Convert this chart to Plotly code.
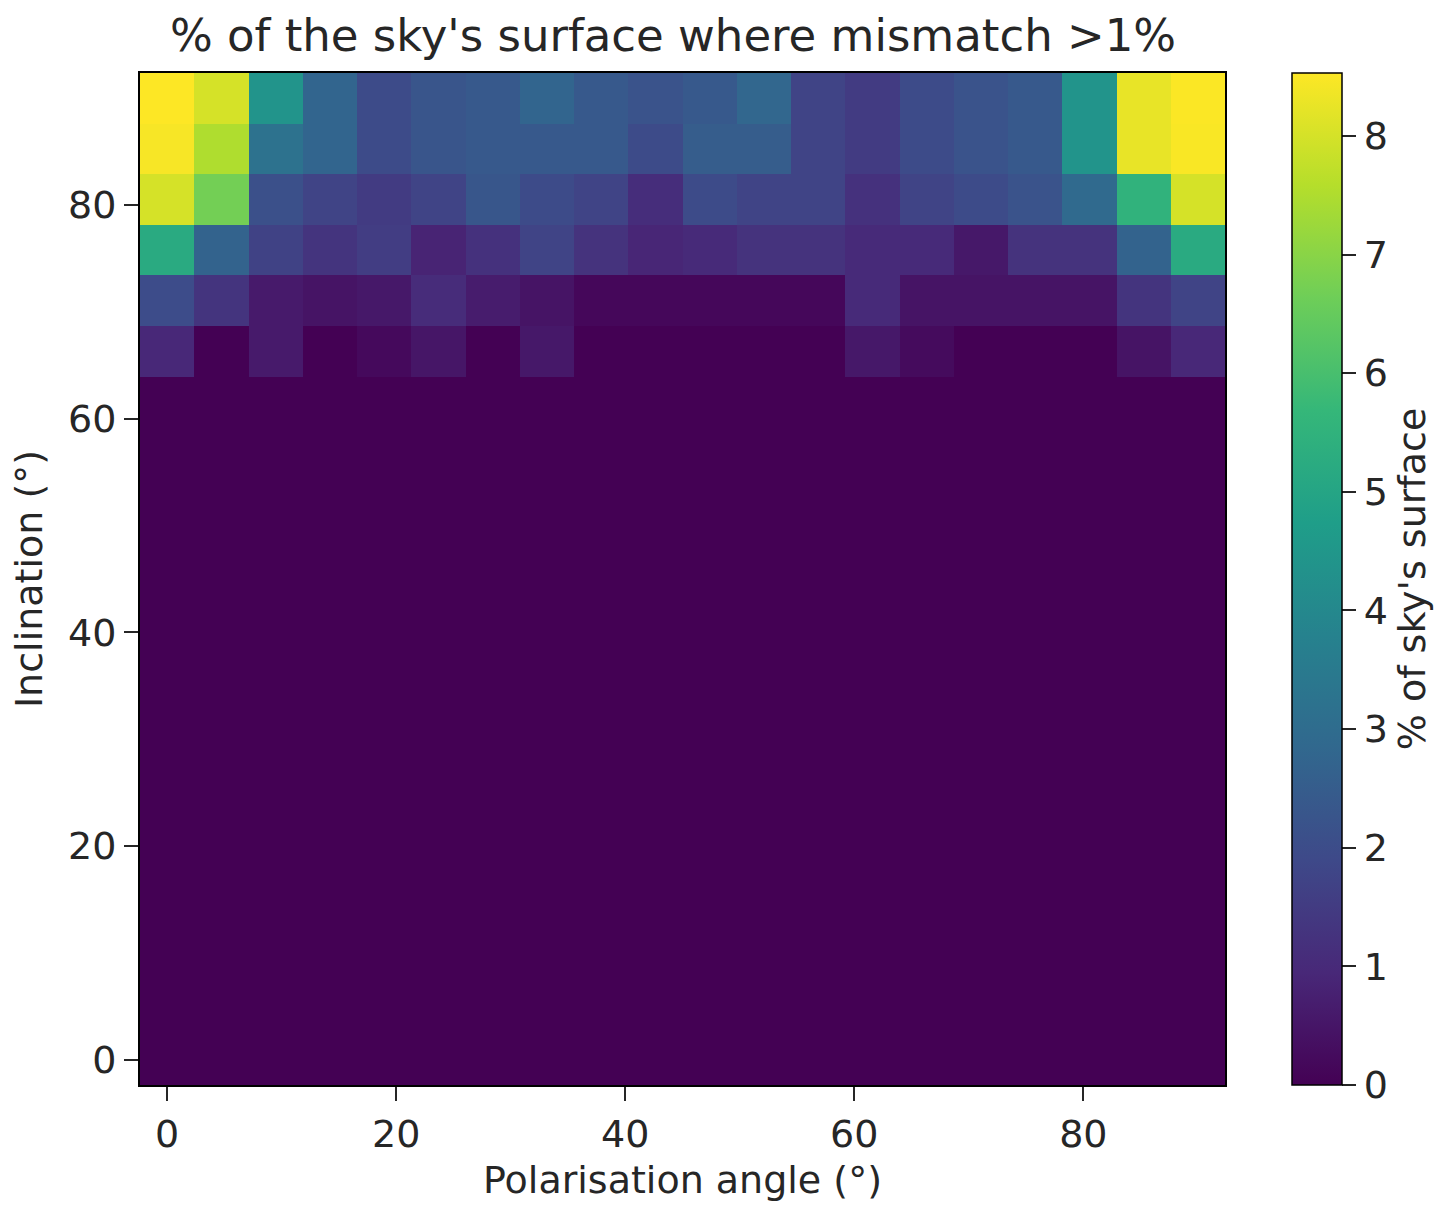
import numpy as np
import plotly.graph_objects as go

# Grid of polarisation angles and inclinations (degrees), 20 x 20 bins
polarisation_angles = [0.0, 4.737, 9.474, 14.211, 18.947, 23.684, 28.421, 33.158, 37.895, 42.632,
                       47.368, 52.105, 56.842, 61.579, 66.316, 71.053, 75.789, 80.526, 85.263, 90.0]
inclinations = [0.0, 4.737, 9.474, 14.211, 18.947, 23.684, 28.421, 33.158, 37.895, 42.632,
                47.368, 52.105, 56.842, 61.579, 66.316, 71.053, 75.789, 80.526, 85.263, 90.0]

# % of the sky's surface with mismatch > 1%, one row per inclination (bottom to top)
row_00 = [0.0] * 20
row_05 = [0.0] * 20
row_09 = [0.0] * 20
row_14 = [0.0] * 20
row_19 = [0.0] * 20
row_24 = [0.0] * 20
row_28 = [0.0] * 20
row_33 = [0.0] * 20
row_38 = [0.0] * 20
row_43 = [0.0] * 20
row_47 = [0.0] * 20
row_52 = [0.0] * 20
row_57 = [0.0] * 20
row_62 = [0.0] * 20
row_66 = [0.95, 0.0, 0.6, 0.0, 0.2, 0.5, 0.0, 0.55, 0.0, 0.0,
          0.0, 0.0, 0.0, 0.55, 0.25, 0.0, 0.0, 0.0, 0.45, 0.95]
row_71 = [2.0, 1.3, 0.6, 0.45, 0.55, 1.05, 0.65, 0.45, 0.15, 0.15,
          0.15, 0.15, 0.15, 1.0, 0.45, 0.45, 0.45, 0.45, 1.3, 1.75]
row_76 = [5.2, 2.7, 1.7, 1.3, 1.55, 0.85, 1.2, 1.75, 1.25, 0.9,
          1.0, 1.25, 1.25, 1.0, 1.0, 0.55, 1.25, 1.25, 2.7, 5.2]
row_81 = [8.0, 6.7, 2.1, 1.75, 1.5, 1.75, 2.3, 1.95, 1.75, 1.1,
          1.95, 1.75, 1.75, 1.2, 1.75, 1.95, 2.2, 2.9, 5.5, 8.0]
row_85 = [8.45, 7.5, 3.2, 2.75, 1.95, 2.25, 2.4, 2.4, 2.4, 1.95,
          2.5, 2.5, 1.75, 1.5, 1.95, 2.2, 2.4, 4.4, 8.25, 8.48]
row_90 = [8.53, 8.0, 4.4, 2.75, 1.95, 2.25, 2.4, 2.75, 2.4, 2.2,
          2.4, 2.8, 1.75, 1.5, 1.95, 2.2, 2.4, 4.4, 8.25, 8.5]

sky_fraction = [row_00, row_05, row_09, row_14, row_19, row_24, row_28, row_33, row_38, row_43,
                row_47, row_52, row_57, row_62, row_66, row_71, row_76, row_81, row_85, row_90]

tick_values = [0, 20, 40, 60, 80]
cbar_ticks = [0, 1, 2, 3, 4, 5, 6, 7, 8]

FONT = "DejaVu Sans"
TXT = "#262626"
LABEL_SIZE = 38

half = (polarisation_angles[1] - polarisation_angles[0]) / 2

fig = go.Figure(
    go.Heatmap(
        x=polarisation_angles,
        y=inclinations,
        z=sky_fraction,
        colorscale="Viridis",
        zmin=0,
        zmax=max(max(r) for r in sky_fraction),
        colorbar=dict(
            x=(1292 - 140) / 1085,
            xanchor="left",
            xpad=0,
            y=0.5,
            yanchor="middle",
            len=1.0,
            lenmode="fraction",
            ypad=0,
            thickness=50,
            thicknessmode="pixels",
            outlinecolor="black",
            outlinewidth=1.5,
            ticks="outside",
            ticklen=14,
            tickwidth=1.5,
            tickcolor=TXT,
            tickvals=cbar_ticks,
            tickfont=dict(family=FONT, size=LABEL_SIZE, color=TXT),
            title=dict(text="% of sky's surface", side="right",
                       font=dict(family=FONT, size=LABEL_SIZE, color=TXT)),
        ),
        hovertemplate="angle %{x:.1f}°<br>inclination %{y:.1f}°<br>%{z:.2f}%<extra></extra>",
    )
)

axis_common = dict(
    showgrid=False,
    zeroline=False,
    ticks="outside",
    ticklen=14,
    tickwidth=1.5,
    tickcolor=TXT,
    tickvals=tick_values,
    tickfont=dict(family=FONT, size=LABEL_SIZE, color=TXT),
    showline=True,
    linecolor="black",
    linewidth=2,
    mirror=True,
)

fig.update_xaxes(
    **axis_common,
    range=[polarisation_angles[0] - half, polarisation_angles[-1] + half],
    title=dict(text="Polarisation angle (°)", standoff=12,
               font=dict(family=FONT, size=LABEL_SIZE, color=TXT)),
)
fig.update_yaxes(
    **axis_common,
    range=[inclinations[0] - half, inclinations[-1] + half],
    title=dict(text="Inclination (°)", standoff=14,
               font=dict(family=FONT, size=LABEL_SIZE, color=TXT)),
)

fig.update_layout(
    width=1448,
    height=1211,
    margin=dict(l=140, r=223, t=73, b=126),
    paper_bgcolor="white",
    plot_bgcolor="white",
    font=dict(family=FONT, color=TXT),
    title=dict(
        text="% of the sky's surface where mismatch >1%",
        x=673 / 1448,
        xanchor="center",
        y=1 - 35 / 1211,
        yanchor="middle",
        font=dict(family=FONT, size=45, color=TXT),
    ),
)

fig.write_html("out.html")
